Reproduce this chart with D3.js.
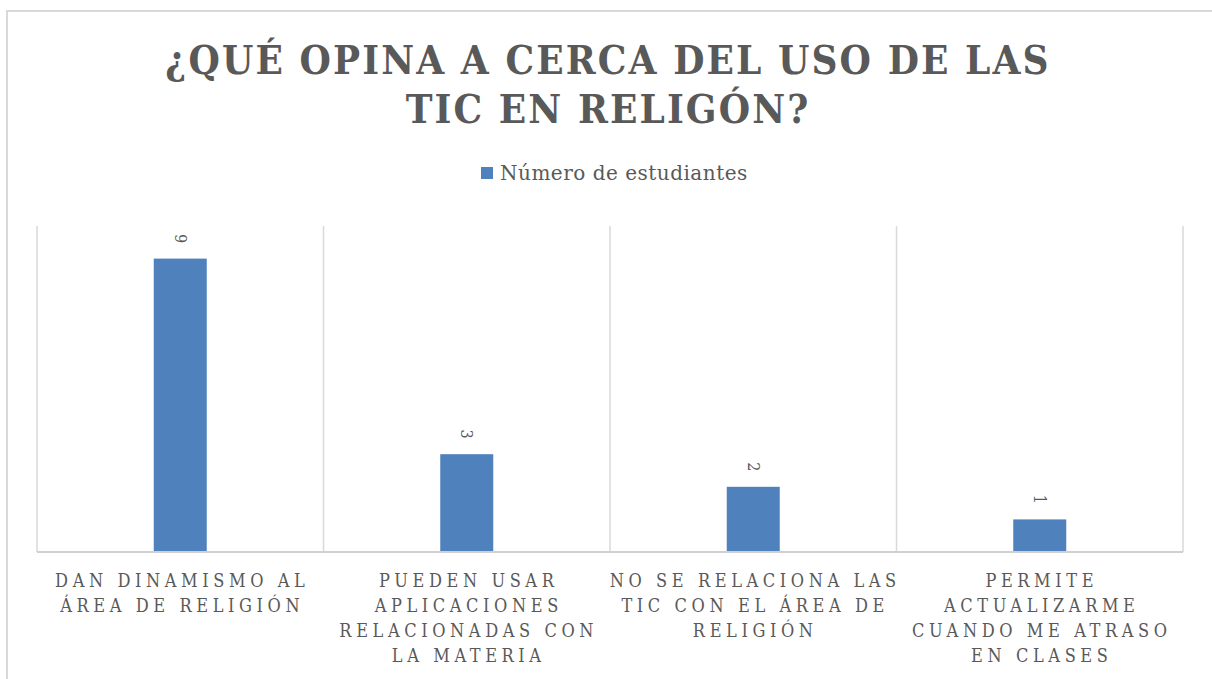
<!DOCTYPE html>
<html>
<head>
<meta charset="utf-8">
<script src="https://cdn.jsdelivr.net/npm/d3@7"></script>
<style>
  body { margin: 0; background: #fff; }
  svg { display: block; }
</style>
</head>
<body>
<div id="chart"></div>
<script>
var categories = ["dan", "pueden", "nose", "permite"];
var catLines = [
    ["DAN DINAMISMO AL", "ÁREA DE RELIGIÓN"],
    ["PUEDEN USAR", "APLICACIONES", "RELACIONADAS CON", "LA MATERIA"],
    ["NO SE RELACIONA LAS", "TIC CON EL ÁREA DE", "RELIGIÓN"],
    ["PERMITE", "ACTUALIZARME", "CUANDO ME ATRASO", "EN CLASES"]
];
var values = [9, 3, 2, 1];
var seriesName = "Número de estudiantes";
var titleLines = ["¿QUÉ OPINA A CERCA DEL USO DE LAS", "TIC EN RELIGÓN?"];

var svg = d3.select('#chart')
    .append('svg')
    .attr('width', 1212)
    .attr('height', 679);

var textColor = "#595959";
var barColor = "#4f81bd";
var gridColor = "#d9d9d9";

// outer frame
svg.append("rect")
    .attr("x", 7)
    .attr("y", 11)
    .attr("width", 1210)
    .attr("height", 700)
    .attr("fill", "none")
    .attr("stroke", gridColor)
    .attr("stroke-width", 2);

var plot = { left: 37, right: 1183, top: 226, bottom: 552 };

var x = d3.scaleBand()
    .domain(categories)
    .range([plot.left, plot.right])
    .paddingInner(0)
    .paddingOuter(0);
var y = d3.scaleLinear()
    .domain([0, 10])
    .range([plot.bottom, plot.top]);

// title
svg.append("text")
    .attr("x", 608)
    .attr("y", 74)
    .attr("text-anchor", "middle")
    .attr("font-family", "'DejaVu Serif Condensed', 'DejaVu Serif', serif")
    .attr("font-weight", "bold")
    .attr("font-size", 40)
    .attr("letter-spacing", 2.1)
    .attr("fill", textColor)
    .selectAll("tspan")
    .data(titleLines)
    .enter().append("tspan")
    .attr("x", 608)
    .attr("dy", function (d, i) { return i == 0 ? 0 : 49; })
    .text(function (d) { return d; });

// legend
svg.append("rect")
    .attr("x", 481)
    .attr("y", 167)
    .attr("width", 12)
    .attr("height", 12)
    .attr("fill", barColor);
svg.append("text")
    .attr("x", 500)
    .attr("y", 180)
    .attr("font-family", "'DejaVu Serif', serif")
    .attr("font-size", 20)
    .attr("letter-spacing", 0.5)
    .attr("fill", textColor)
    .text(seriesName);

// vertical category gridlines
var edges = categories.map(function (c) { return x(c); }).concat([x.range()[1]]);
svg.append("g")
    .selectAll("line")
    .data(edges)
    .enter().append("line")
    .attr("x1", function (d) { return d; })
    .attr("x2", function (d) { return d; })
    .attr("y1", plot.top)
    .attr("y2", plot.bottom)
    .attr("stroke", gridColor)
    .attr("stroke-width", 1.5);

// bars
var barW = x.bandwidth() * 0.185;
svg.append("g")
    .selectAll("rect")
    .data(values)
    .enter().append("rect")
    .attr("x", function (d, i) { return x(categories[i]) + (x.bandwidth() - barW) / 2; })
    .attr("y", function (d) { return y(d); })
    .attr("width", barW)
    .attr("height", function (d) { return y(0) - y(d); })
    .attr("fill", barColor);

// baseline
svg.append("line")
    .attr("x1", plot.left)
    .attr("x2", plot.right)
    .attr("y1", y(0))
    .attr("y2", y(0))
    .attr("stroke", "#d0d0d0")
    .attr("stroke-width", 2);

// rotated value labels
svg.append("g")
    .selectAll("text")
    .data(values)
    .enter().append("text")
    .attr("transform", function (d, i) {
        var cx = x(categories[i]) + x.bandwidth() / 2;
        return "translate(" + cx + "," + (y(d) - 20) + ") rotate(90)";
    })
    .attr("text-anchor", "middle")
    .attr("dy", "0.35em")
    .attr("font-family", "'DejaVu Serif Condensed', 'DejaVu Serif', serif")
    .attr("font-size", 16)
    .attr("fill", textColor)
    .text(function (d) { return d; });

// category labels
var catG = svg.append("g")
    .selectAll("text")
    .data(catLines)
    .enter().append("text")
    .attr("text-anchor", "middle")
    .attr("font-family", "'DejaVu Serif Condensed', 'DejaVu Serif', serif")
    .attr("font-size", 18)
    .attr("letter-spacing", 4.6)
    .attr("fill", textColor);
catG.each(function (lines, i) {
    var cx = x(categories[i]) + x.bandwidth() / 2 + 2;
    d3.select(this).selectAll("tspan")
        .data(lines)
        .enter().append("tspan")
        .attr("x", cx)
        .attr("y", function (d, j) { return 587 + j * 25; })
        .text(function (d) { return d; });
});
</script>
</body>
</html>
